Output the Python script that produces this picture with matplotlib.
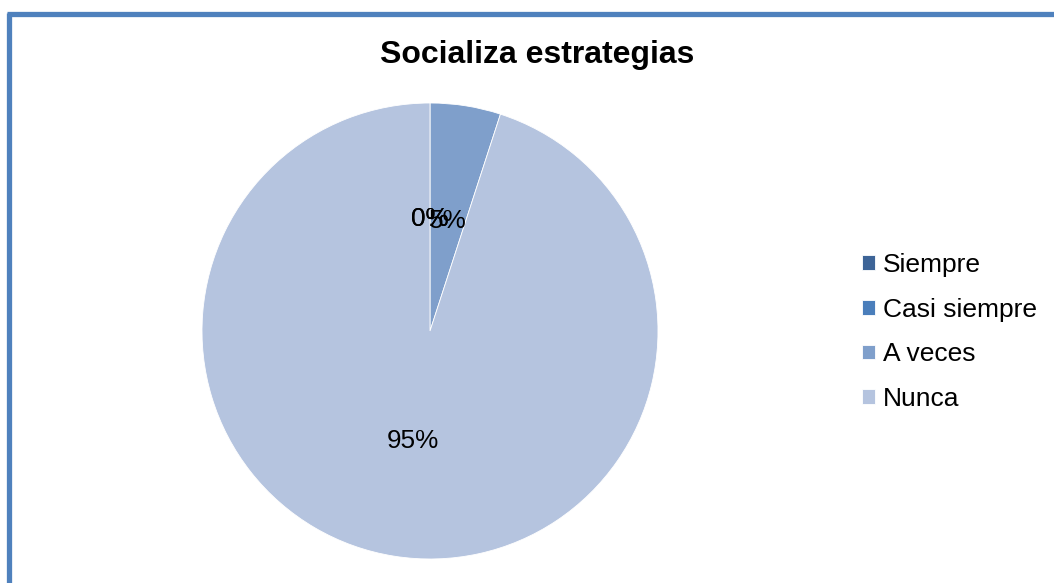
import matplotlib
matplotlib.use("Agg")
import matplotlib.pyplot as plt
from matplotlib.lines import Line2D

plt.rcParams['font.family'] = ['Liberation Sans', 'DejaVu Sans']

categories = ["Siempre", "Casi siempre", "A veces", "Nunca"]
values = [0, 0, 5, 95]
colors = ["#3D6497", "#4A7EBB", "#7F9FCB", "#B5C4DF"]

W, H, DPI = 1054, 583, 100
fig = plt.figure(figsize=(W / DPI, H / DPI), dpi=DPI)
fig.patch.set_facecolor("white")

# Chart frame: blue border on the left and top edges
frame_kw = dict(color="#4F81BD", linewidth=3.8, solid_capstyle="butt", transform=fig.transFigure)
fig.add_artist(Line2D([8.5 / W, 8.5 / W], [0, 1 - 12.5 / H], **frame_kw))
fig.add_artist(Line2D([6.6 / W, 1], [1 - 14 / H, 1 - 14 / H], **frame_kw))

# Pie: centre (430, 331), radius 228 px
cx, cy, r = 430, 331, 228
ax = fig.add_axes([(cx - r) / W, 1 - (cy + r) / H, 2 * r / W, 2 * r / H])
wedges, texts, autotexts = ax.pie(
    values, colors=colors, startangle=90, counterclock=False,
    autopct=lambda p: f"{p:.0f}%", pctdistance=0.49, radius=1.0,
    wedgeprops=dict(linewidth=0.6, edgecolor="white"),
    textprops=dict(fontsize=18.8, color="black"),
)
ax.set_xlim(-1, 1)
ax.set_ylim(-1, 1)
ax.set_aspect("equal")

fig.text(537 / W, 1 - 55 / H, "Socializa estrategias", ha="center", va="center",
         fontsize=23, fontweight="bold")

leg = fig.legend(wedges, categories, loc="center left",
                 bbox_to_anchor=(849 / W, 1 - 332 / H),
                 frameon=False, fontsize=19, handlelength=0.48, handleheight=0.48,
                 handletextpad=0.3, labelspacing=0.78, borderpad=0)

fig.savefig("out.png", dpi=DPI, facecolor="white")
